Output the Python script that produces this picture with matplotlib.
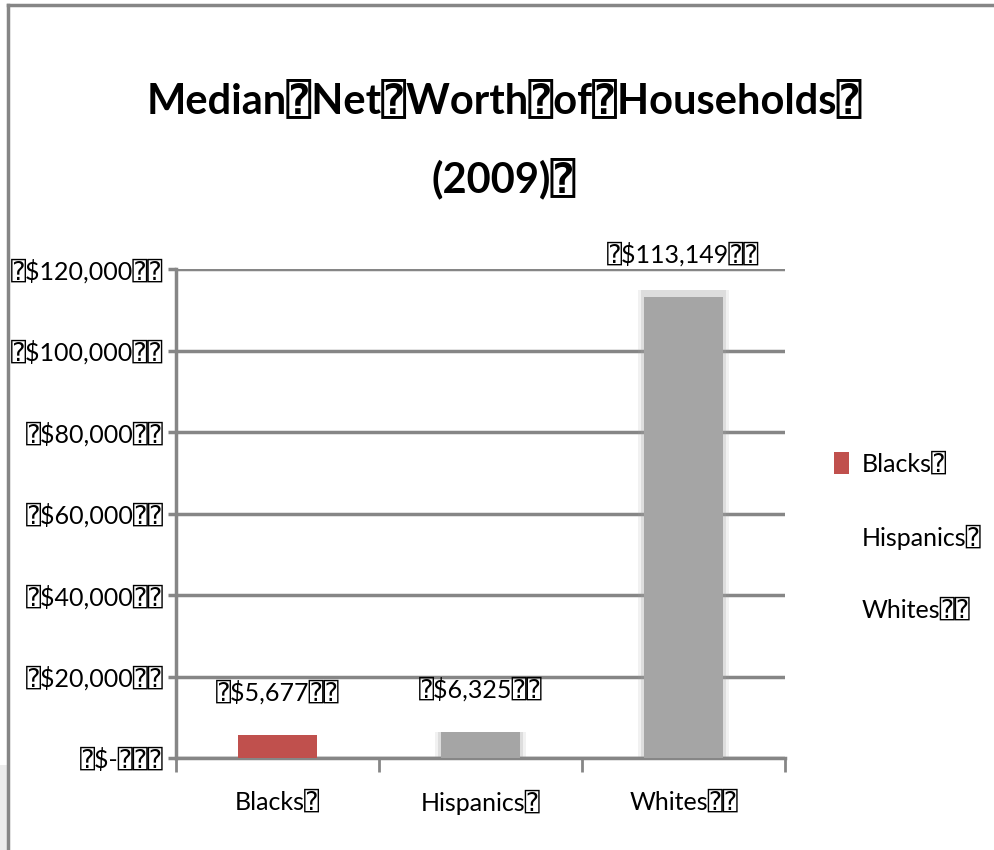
import matplotlib
matplotlib.use("Agg")
import matplotlib.pyplot as plt
from matplotlib.patches import Patch, Rectangle
from matplotlib.lines import Line2D

groups = ["Blacks", "Hispanics", "Whites"]
group_labels = ["Blacks\u2370", "Hispanics\u2370", "Whites\u2370\u2370"]
net_worth = [5677, 6325, 113149]
value_labels = ["\u2370$5,677\u2370\u2370", "\u2370$6,325\u2370\u2370", "\u2370$113,149\u2370\u2370"]
bar_colors = ["#C0504D", "#A5A5A5", "#A5A5A5"]
legend_colors = ["#C0504D", "white", "white"]
yticks = [0, 20000, 40000, 60000, 80000, 100000, 120000]
ytick_labels = ["\u2370$-\u2370\u2370\u2370", "\u2370$20,000\u2370\u2370", "\u2370$40,000\u2370\u2370",
                "\u2370$60,000\u2370\u2370", "\u2370$80,000\u2370\u2370", "\u2370$100,000\u2370\u2370",
                "\u2370$120,000\u2370\u2370"]

plt.rcParams['font.family'] = ['Lato', 'DejaVu Sans', 'DejaVu Sans Mono']
grey = "#868686"
fs = 18

fig = plt.figure(figsize=(9.94, 8.5), dpi=100)
ax = fig.add_axes([0.1771, 0.1082, 0.6126, 0.5753])

# slide frame, with a little shading at the lower left edge
fig.add_artist(Rectangle((0, 0), 0.008, 0.1, color="#ececec", transform=fig.transFigure, lw=0))
fig.add_artist(Line2D([0.008, 1.0], [0.994, 0.994], color=grey, lw=2.5, transform=fig.transFigure))
fig.add_artist(Line2D([0.008, 0.008], [0.0, 0.994], color=grey, lw=2.5, transform=fig.transFigure))

fig.text(0.507, 0.882, "Median\u2370Net\u2370Worth\u2370of\u2370Households\u2370",
         ha="center", va="center", fontsize=30, fontweight="bold")
fig.text(0.507, 0.79, "(2009)\u2370", ha="center", va="center", fontsize=30, fontweight="bold")

x = range(len(groups))
# soft halo around the grey bars
for i, (v, c) in enumerate(zip(net_worth, bar_colors)):
    if c != "#C0504D":
        for w, a in [(0.45, 0.15), (0.42, 0.25)]:
            ax.bar(i, v * 1.015, width=w, color=c, alpha=a, zorder=2, linewidth=0)
bars = ax.bar(x, net_worth, width=0.39, color=bar_colors, zorder=3, linewidth=0)

for i, (v, lab) in enumerate(zip(net_worth, value_labels)):
    ax.annotate(lab, (i, v), xytext=(0, 31), textcoords="offset points",
                ha="center", va="center", fontsize=fs)

ax.set_xlim(-0.5, 2.5)
ax.set_ylim(0, 120000)
ax.set_yticks(yticks)
ax.set_yticklabels(ytick_labels, fontsize=fs)
ax.set_xticks(list(x))
ax.set_xticklabels(group_labels, fontsize=fs)
ax.set_xticks([-0.5, 0.5, 1.5, 2.5], minor=True)
ax.tick_params(axis="x", which="major", length=0, pad=23)
ax.tick_params(axis="x", which="minor", length=10, width=2, color=grey)
ax.tick_params(axis="y", length=6, width=2.5, color=grey, pad=3)

ax.yaxis.grid(True, color=grey, linewidth=2.5, zorder=1)
ax.set_axisbelow(True)
for s in ["top", "right"]:
    ax.spines[s].set_visible(False)
for s in ["left", "bottom"]:
    ax.spines[s].set_color(grey)
    ax.spines[s].set_linewidth(2.5)

handles = [Patch(facecolor=c, edgecolor="none") for c in legend_colors]
ax.legend(handles, group_labels, loc="center left", bbox_to_anchor=(1.044, 0.452),
          frameon=False, fontsize=fs, handlelength=0.6, handleheight=1.0,
          handletextpad=0.5, labelspacing=1.95)

fig.savefig("out.png", dpi=100)
